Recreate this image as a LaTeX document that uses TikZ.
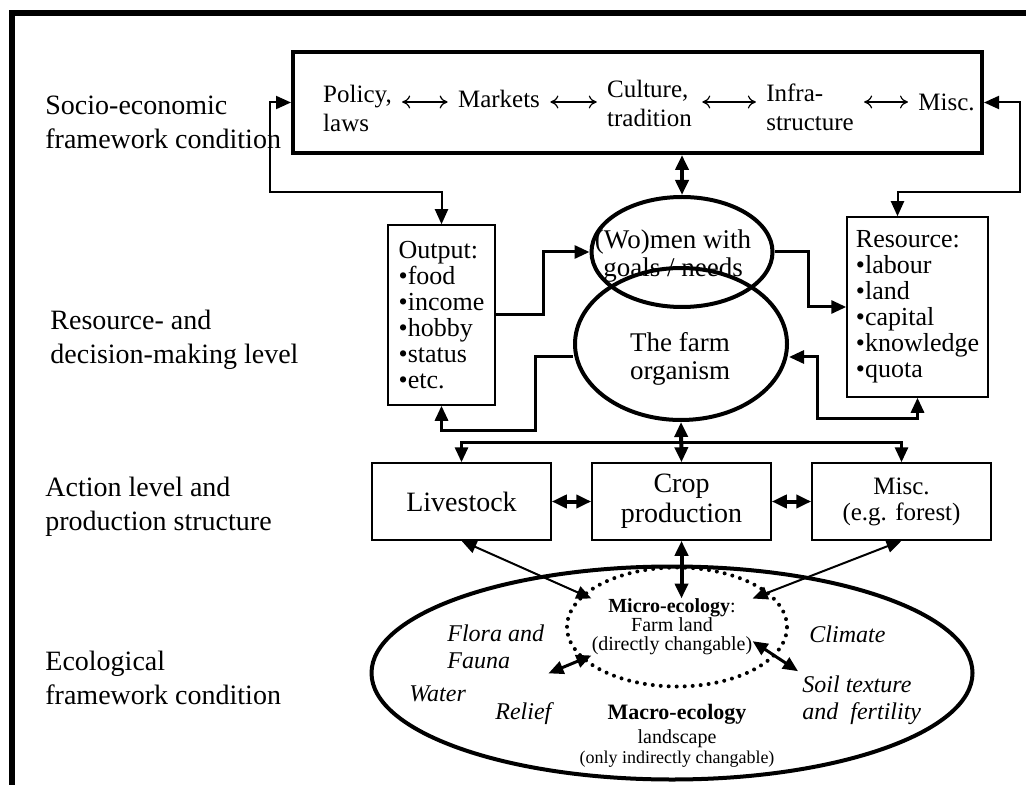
\documentclass[tikz,border=0pt]{standalone}
\usepackage{fontspec}
\setmainfont{Liberation Serif}
\usetikzlibrary{arrows.meta}
\usetikzlibrary{shapes.geometric}
\usetikzlibrary{positioning}

\tikzset{
  >={Triangle[length=7.5pt,width=6.5pt]},
  lvl/.style={anchor=west, align=left, inner sep=0pt, font=\fontsize{14}{17}\selectfont},
  ctx/.style={align=left, inner xsep=5pt, inner ysep=2pt, font=\fontsize{12.5}{14.5}\selectfont},
  ctxlink/.style={line width=0.6pt, {To[length=4pt,width=6.5pt]}-{To[length=4pt,width=6.5pt]}},
  listbox/.style={draw, line width=0.75pt, align=left, minimum height=90pt, inner xsep=3pt, font=\fontsize{13}{13}\selectfont},
  actbox/.style={draw, line width=0.75pt, align=center, minimum width=89.5pt, minimum height=38.5pt},
  actor/.style={draw, ellipse, line width=2pt, inner sep=0pt},
  acttext/.style={align=center, inner sep=0pt, font=\fontsize{13.5}{14}\selectfont},
  ecotext/.style={anchor=west, align=left, inner sep=2pt, font=\fontsize{12}{13.5}\selectfont\itshape},
  thinlink/.style={line width=1pt},
  midlink/.style={line width=1.5pt},
  thicklink/.style={line width=2pt}
}

\begin{document}
\begin{tikzpicture}[x=0.5pt, y=-0.5pt, line join=miter]
\useasboundingbox (0,0) rectangle (1026,785);
\draw[line width=3pt] (12,785) -- (12,13) -- (1026,13);

% levels
\node[lvl] (lsocio) at (45,122) {Socio-economic\\framework condition};
\node[lvl] (lres) at (50,340) {Resource- and\\decision-making level};
\node[lvl] (lact) at (45,507) {Action level and\\production structure};
\node[lvl] (leco) at (45,678) {Ecological\\framework condition};

% socio-economic box
\node[draw, line width=2pt, minimum width=344.5pt, minimum height=50.5pt] (socio) at (637.5,102.5) {};
\node[ctx] (policy) at (357.5,108) {Policy,\\laws};
\node[ctx] (markets) at (499,99) {Markets};
\node[ctx] (culture) at (649.5,103) {Culture,\\tradition};
\node[ctx] (infra) at (810,107) {Infra-\\structure};
\node[ctx] (miscctx) at (946.5,102) {Misc.};
\draw[ctxlink] (policy.east |- miscctx) -- (markets.west |- miscctx);
\draw[ctxlink] (markets.east |- miscctx) -- (culture.west |- miscctx);
\draw[ctxlink] (culture.east |- miscctx) -- (infra.west |- miscctx);
\draw[ctxlink] (infra.east |- miscctx) -- (miscctx);

% resource and decision level
\node[listbox, minimum width=53.5pt] (output) at (441.5,315) {Output:\\\textbullet food\\\textbullet income\\\textbullet hobby\\\textbullet status\\\textbullet etc.};
\node[listbox, minimum width=70.5pt] (resource) at (917.5,307) {Resource:\\\textbullet labour\\\textbullet land\\\textbullet capital\\\textbullet knowledge\\\textbullet quota};
\node[actor, minimum width=90.5pt, minimum height=55pt] (women) at (682,252) {};
\node[acttext] (womentxt) at (673,256) {(Wo)men with\\goals / needs};
\node[actor, minimum width=106pt, minimum height=76pt] (farm) at (681,344) {};
\node[acttext] (farmtxt) at (680,359) {The farm\\organism};

% action level
\node[actbox, font=\fontsize{14}{15}\selectfont] (livestock) at (461.5,501.5) {Livestock};
\node[actbox, font=\fontsize{14}{15}\selectfont] (crop) at (681.5,501.5) {Crop\\production};
\node[actbox, font=\fontsize{12.5}{13}\selectfont] (misc) at (901.5,501.5) {Misc.\\(e.g. forest)};

% ecology
\node[draw, ellipse, line width=2pt, inner sep=0pt, minimum width=300.5pt, minimum height=106.5pt] (ecoring) at (672,673) {};
\node[draw, ellipse, inner sep=0pt, line width=2pt, dash pattern=on 0pt off 4pt, line cap=round, minimum width=110pt, minimum height=59.5pt] (microring) at (677,627) {};
\node[align=center, inner sep=0pt, font=\fontsize{10}{9.5}\selectfont] (micro) at (672,627) {\textbf{Micro-ecology}:\\Farm land\\(directly changable)};
\node[align=center, inner sep=0pt, font=\fontsize{10}{12}\selectfont] (macro) at (677,736) {{\fontsize{11}{12}\selectfont\bfseries Macro-ecology}\\landscape\\[-2pt]{\fontsize{9}{10}\selectfont(only indirectly changable)}};
\node[ecotext] (flora) at (443,647) {Flora and\\Fauna};
\node[ecotext] (water) at (405,694) {Water};
\node[ecotext] (relief) at (491,714) {Relief};
\node[ecotext] (climate) at (805,634) {Climate};
\node[ecotext] (soil) at (798,700) {Soil texture\\and~ fertility};

% links
\draw[thinlink, <->] (socio.west) -| (270,192) -| (output.north);
\draw[thinlink, <->] (socio.east) -| (1020,192) -| ([xshift=-10pt]resource.north);
\draw[thicklink, <->] (women.north |- socio.south) -- (women.north);
\draw[midlink, ->] (output.east) -| (543,252) -- (women.west);
\draw[midlink, ->] (women.east) -| (808,307) -- (resource.west);
\draw[midlink, <->] ([yshift=-6.5pt]farm.east) -| (817,418) -| (resource.south);
\draw[midlink, ->] ([yshift=-6.5pt]farm.west) -| (535,430) -| (output.south);
\draw[thicklink, <->] (farm.south) -- (crop.north);
\draw[midlink, <->] (livestock.north) |- (681,442) -| (misc.north);
\draw[thicklink, <->] (livestock) -- (crop);
\draw[thicklink, <->] (crop) -- (misc);
\draw[thinlink, <->] (livestock.south) -- (micro.north west);
\draw[thicklink, <->] (crop.south) -- (crop.south |- micro.north);
\draw[thinlink, <->] (misc.south) -- (micro.north east);
\draw[midlink, <->] (flora.south east) -- (micro.south west);
\draw[midlink, <->] (micro.-10) -- (soil.north west);
\end{tikzpicture}
\end{document}
